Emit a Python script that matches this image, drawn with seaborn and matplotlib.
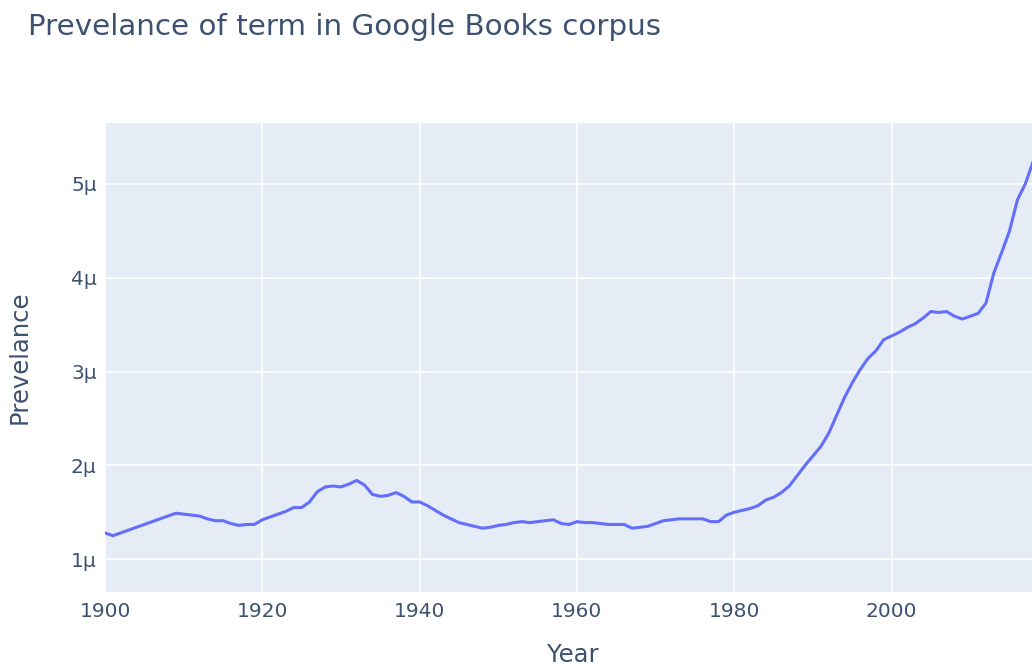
import matplotlib
matplotlib.use("Agg")
import matplotlib.pyplot as plt
import seaborn as sns
import pandas as pd
from matplotlib.ticker import FuncFormatter

years = list(range(1900, 2020))
prevalence_micro = [
    1.28, 1.25, 1.28, 1.31, 1.34, 1.37, 1.40, 1.43, 1.46, 1.49,
    1.48, 1.47, 1.46, 1.43, 1.41, 1.41, 1.38, 1.36, 1.37, 1.37,
    1.42, 1.45, 1.48, 1.51, 1.55, 1.55, 1.61, 1.72, 1.77, 1.78,
    1.77, 1.80, 1.84, 1.79, 1.69, 1.67, 1.68, 1.71, 1.67, 1.61,
    1.61, 1.57, 1.52, 1.47, 1.43, 1.39, 1.37, 1.35, 1.33, 1.34,
    1.36, 1.37, 1.39, 1.40, 1.39, 1.40, 1.41, 1.42, 1.38, 1.37,
    1.40, 1.39, 1.39, 1.38, 1.37, 1.37, 1.37, 1.33, 1.34, 1.35,
    1.38, 1.41, 1.42, 1.43, 1.43, 1.43, 1.43, 1.40, 1.40, 1.47,
    1.50, 1.52, 1.54, 1.57, 1.63, 1.66, 1.71, 1.78, 1.89, 2.00,
    2.10, 2.20, 2.34, 2.53, 2.72, 2.88, 3.02, 3.14, 3.22, 3.34,
    3.38, 3.42, 3.47, 3.51, 3.57, 3.64, 3.63, 3.64, 3.59, 3.56,
    3.59, 3.62, 3.73, 4.05, 4.27, 4.50, 4.83, 5.00, 5.24, 5.45,
]
y_ticks = [1, 2, 3, 4, 5]
x_ticks = [1900, 1920, 1940, 1960, 1980, 2000]

df = pd.DataFrame({"Year": years, "Prevelance": [v * 1e-6 for v in prevalence_micro]})

sns.set_style("darkgrid", {"axes.facecolor": "#E5ECF6", "grid.color": "white"})
plt.rcParams['font.family'] = ['DejaVu Sans']
text_color = "#2a3f5f"
tick_color = "#3d5170"

W, H = 1032, 669
fig = plt.figure(figsize=(W / 100, H / 100), dpi=100)
left, right, top, bottom = 105, 1041, 123, 592
ax = fig.add_axes([left / W, (H - bottom) / H, (right - left) / W, (bottom - top) / H])

sns.lineplot(data=df, x="Year", y="Prevelance", ax=ax, color="#636EFA", linewidth=2.2)

ax.set_xlim(1900, 2019)
ax.set_ylim(0.65e-6, 5.65e-6)
ax.set_xticks(x_ticks)
ax.set_yticks([v * 1e-6 for v in y_ticks])
ax.yaxis.set_major_formatter(FuncFormatter(lambda v, p: f"{round(v * 1e6)}μ"))
ax.grid(True, color="white", linewidth=1.2)
for s in ax.spines.values():
    s.set_visible(False)
ax.tick_params(axis="both", length=0, labelsize=14.5, colors=tick_color)
ax.tick_params(axis="x", pad=7)
ax.tick_params(axis="y", pad=6)
ax.set_xlabel("Year", fontsize=17.5, color=tick_color, va="center")
ax.set_ylabel("Prevelance", fontsize=17.5, color=tick_color, va="center")
ax.xaxis.set_label_coords(573 / W, 1 - 655 / H, transform=fig.transFigure)
ax.yaxis.set_label_coords(20 / W, 1 - 357 / H, transform=fig.transFigure)

fig.text(28 / W, 1 - 27 / H, "Prevelance of term in Google Books corpus",
         fontsize=21.2, color=tick_color, ha="left", va="center")

fig.savefig("out.png", dpi=100)
